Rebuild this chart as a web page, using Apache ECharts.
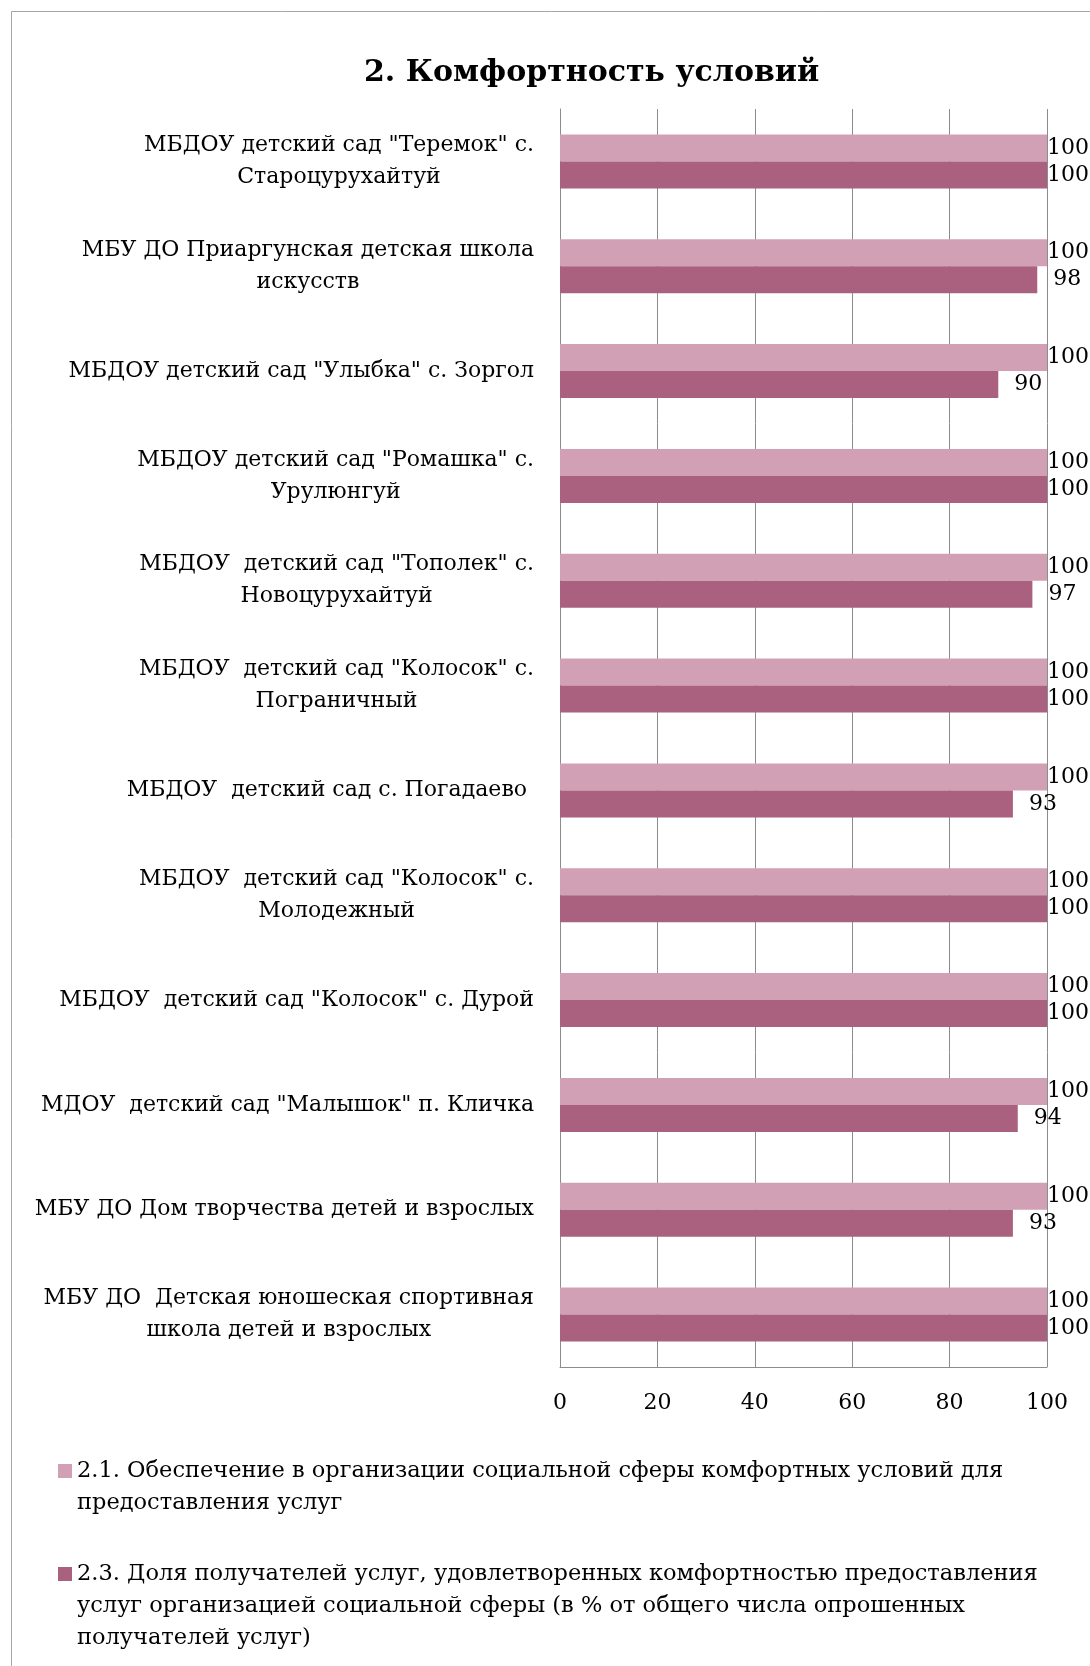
<!DOCTYPE html>
<html>
<head>
<meta charset="utf-8">
<script src="https://cdn.jsdelivr.net/npm/echarts@6/dist/echarts.min.js"></script>
<style>
  html, body { margin: 0; padding: 0; background: #fff; }
  #chart { width: 1090px; height: 1666px; }
</style>
</head>
<body>
<div id="chart"></div>
<script>
const categories = [
  'МБДОУ детский сад "Теремок" с.\nСтароцурухайтуй',
  'МБУ ДО Приаргунская детская школа\nискусств',
  'МБДОУ детский сад "Улыбка" с. Зоргол',
  'МБДОУ детский сад "Ромашка" с.\nУрулюнгуй',
  'МБДОУ  детский сад "Тополек" с.\nНовоцурухайтуй',
  'МБДОУ  детский сад "Колосок" с.\nПограничный',
  'МБДОУ  детский сад с. Погадаево ',
  'МБДОУ  детский сад "Колосок" с.\nМолодежный',
  'МБДОУ  детский сад "Колосок" с. Дурой',
  'МДОУ  детский сад "Малышок" п. Кличка',
  'МБУ ДО Дом творчества детей и взрослых',
  'МБУ ДО  Детская юношеская спортивная\nшкола детей и взрослых'
]
const comfortValues = [100, 100, 100, 100, 100, 100, 100, 100, 100, 100, 100, 100]
const satisfiedValues = [100, 98, 90, 100, 97, 100, 93, 100, 100, 94, 93, 100]
const seriesNames = [
  '2.1. Обеспечение в организации социальной сферы комфортных условий для предоставления услуг',
  '2.3. Доля получателей услуг, удовлетворенных комфортностью предоставления услуг организацией социальной сферы (в % от общего числа опрошенных получателей услуг)'
]
// переносы строк в легенде как на картинке
const legendLines = [
  ['2.1. Обеспечение в организации социальной сферы комфортных условий для', 'предоставления услуг'],
  ['2.3. Доля получателей услуг, удовлетворенных комфортностью предоставления', 'услуг организацией социальной сферы (в % от общего числа опрошенных', 'получателей услуг)']
]

const font = 'DejaVu Serif'
const fs = 22
const lh = 32
const colors = ['#d2a0b4', '#aa6180']

const chart = echarts.init(document.getElementById('chart'))

function legendFor(i, top) {
  const lines = legendLines[i]
  // пустые строки сверху, чтобы маркер встал на уровень первой строки
  const pad = new Array(lines.length - 1).fill(' ')
  return {
    top: top,
    left: 58,
    padding: 0,
    orient: 'vertical',
    itemWidth: 14,
    itemHeight: 14,
    icon: 'rect',
    selectedMode: false,
    data: [seriesNames[i]],
    formatter: () => pad.concat(lines).join('\n'),
    textStyle: { fontFamily: font, fontSize: 22.5, lineHeight: lh, color: '#000' }
  }
}

chart.setOption({
  animation: false,
  title: {
    text: '2. Комфортность условий',
    left: 364,
    top: 58,
    padding: 0,
    textStyle: { fontFamily: font, fontSize: 30, fontWeight: 'bold', color: '#000' }
  },
  graphic: [{
    type: 'rect',
    shape: { x: 11.5, y: 11.5, width: 1200, height: 1800 },
    style: { fill: 'none', stroke: '#a6a6a6', lineWidth: 1 },
    silent: true
  }],
  grid: { left: 560, right: 43, top: 109, bottom: 299 },
  xAxis: {
    type: 'value',
    min: 0,
    max: 100,
    interval: 20,
    axisLine: { show: true, lineStyle: { color: '#8c8c8c' } },
    axisTick: { show: false },
    splitLine: { lineStyle: { color: '#8c8c8c' } },
    axisLabel: { margin: 25, fontFamily: font, fontSize: fs, color: '#000' }
  },
  yAxis: {
    type: 'category',
    inverse: true,
    data: categories,
    axisLine: { lineStyle: { color: '#8c8c8c' } },
    axisTick: { show: false },
    axisLabel: {
      margin: 26,
      formatter: v => v.split('\n').map(s => '{c|' + s + '}').join('\n'),
      rich: {
        c: { align: 'center', fontFamily: font, fontSize: fs, lineHeight: lh, color: '#000' }
      }
    }
  },
  legend: [legendFor(0, 1423), legendFor(1, 1494)],
  series: [comfortValues, satisfiedValues].map((vals, i) => ({
    name: seriesNames[i],
    type: 'bar',
    data: vals,
    barWidth: 27,
    barGap: '0%',
    itemStyle: { color: colors[i] },
    label: {
      show: true,
      position: 'right',
      distance: 16,
      fontFamily: font,
      fontSize: fs,
      color: '#000'
    },
    // как в Excel: подпись не вылезает за правый край
    labelLayout: p => {
      const r = p.labelRect
      if (r.x + r.width <= 1089) return {}
      return { x: 1089 - r.width, y: r.y + r.height / 2, align: 'left', verticalAlign: 'middle' }
    }
  }))
})
</script>
</body>
</html>
